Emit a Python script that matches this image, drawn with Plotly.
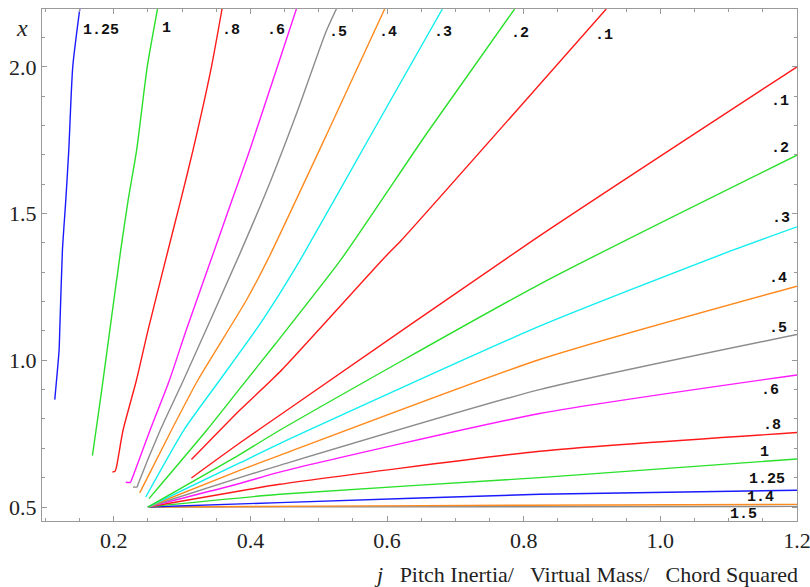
import plotly.graph_objects as go

# ---------------- data: steep family (labels along the top) ----------------
steep_labels = ["1.25", "1", ".8", ".6", ".5", ".4", ".3", ".2", ".1"]
steep_125_j = [0.1137, 0.1200, 0.1210, 0.1249, 0.1298, 0.1342, 0.1400, 0.1503]
steep_125_x = [0.866, 1.034, 1.102, 1.375, 1.545, 1.716, 2.0, 2.197]
steep_1_j = [0.1688, 0.181, 0.1941, 0.2102, 0.221, 0.2335, 0.249, 0.264]
steep_1_x = [0.675, 0.875, 1.10, 1.375, 1.545, 1.716, 2.0, 2.197]
steep_08_j = [0.1981, 0.2019, 0.2040, 0.2136, 0.2332, 0.2502, 0.2795, 0.298, 0.316, 0.343, 0.3585]
steep_08_x = [0.6193, 0.6217, 0.6364, 0.7615, 0.932, 1.1025, 1.375, 1.545, 1.716, 2.0, 2.197]
steep_06_j = [0.2176, 0.2244, 0.2263, 0.2531, 0.2815, 0.306, 0.3473, 0.373, 0.399, 0.4395, 0.4673]
steep_06_x = [0.5842, 0.5842, 0.5934, 0.7615, 0.932, 1.1025, 1.375, 1.545, 1.716, 2.0, 2.197]
steep_05_j = [0.2283, 0.2342, 0.2356, 0.268, 0.302, 0.384, 0.4287, 0.4700, 0.5102, 0.5258]
steep_05_x = [0.5682, 0.5682, 0.5774, 0.7615, 0.932, 1.36, 1.606, 1.856, 2.117, 2.197]
steep_04_j = [0.238, 0.2844, 0.3230, 0.3941, 0.4258, 0.512, 0.5965]
steep_04_x = [0.548, 0.7615, 0.932, 1.2045, 1.3445, 1.771, 2.197]
steep_03_j = [0.2468, 0.3024, 0.355, 0.4078, 0.4429, 0.4736, 0.5772, 0.681]
steep_03_x = [0.534, 0.7615, 0.932, 1.1025, 1.2275, 1.3445, 1.771, 2.197]
steep_02_j = [0.2516, 0.336, 0.385, 0.437, 0.533, 0.6575, 0.7867]
steep_02_x = [0.5285, 0.7615, 0.905, 1.057, 1.3445, 1.771, 2.197]
steep_01_j = [0.3137, 0.3843, 0.4429, 0.594, 0.6209, 0.9208]
steep_01_x = [0.6616, 0.8297, 0.96, 1.3445, 1.4087, 2.197]

# ---------------- data: shallow family (labels along the right) ----------------
shallow_labels = [".1", ".2", ".3", ".4", ".5", ".6", ".8", "1", "1.25", "1.4", "1.5"]
sh_01_j = [0.3137, 0.3843, 0.4429, 0.8135, 1.2]
sh_01_x = [0.599, 0.718, 0.8127, 1.4087, 2.0]
sh_02_j = [0.25, 0.3843, 0.4429, 0.8233, 1.2]
sh_02_x = [0.5, 0.6787, 0.7615, 1.259, 1.699]
sh_03_j = [0.25, 0.3843, 0.4429, 0.8233, 1.106, 1.2]
sh_03_x = [0.5, 0.650, 0.716, 1.116, 1.375, 1.4546]
sh_04_j = [0.25, 0.3843, 0.4429, 0.8233, 1.2]
sh_04_x = [0.5, 0.625, 0.676, 1.0025, 1.2525]
sh_05_j = [0.25, 0.3843, 0.4429, 0.8233, 1.2]
sh_05_x = [0.5, 0.6, 0.642, 0.9, 1.0878]
sh_06_j = [0.25, 0.3843, 0.4429, 0.8233, 1.2]
sh_06_x = [0.5, 0.58, 0.619, 0.8184, 0.95]
sh_08_j = [0.25, 0.3843, 0.4429, 0.8233, 1.2]
sh_08_x = [0.5, 0.5546, 0.5774, 0.69, 0.7537]
sh_1_j = [0.25, 0.4429, 0.8233, 1.2]
sh_1_x = [0.5, 0.5433, 0.60, 0.6637]
sh_125_j = [0.25, 0.4429, 0.8233, 1.2]
sh_125_x = [0.5, 0.515, 0.5433, 0.557]
sh_14_j = [0.25, 0.5, 0.8, 1.2]
sh_14_x = [0.5, 0.503, 0.506, 0.509]
sh_15_j = [0.25, 1.2]
sh_15_x = [0.5, 0.502]

# label anchor positions (data coordinates)
steep_label_j = [0.181, 0.2775, 0.3712, 0.437, 0.5277, 0.6009, 0.6813, 0.794, 0.917]
steep_label_x = [2.125, 2.129, 2.125, 2.125, 2.118, 2.118, 2.118, 2.115, 2.108]
shallow_label_j = [1.1744, 1.1744, 1.1773, 1.1715, 1.1715, 1.1612, 1.1627, 1.1525, 1.1568, 1.1466, 1.1217]
shallow_label_x = [1.883, 1.7205, 1.4843, 1.28, 1.1095, 0.898, 0.7786, 0.6866, 0.5945, 0.534, 0.4751]

x_ticks = [0.2, 0.4, 0.6, 0.8, 1.0, 1.2]
y_ticks = [0.5, 1.0, 1.5, 2.0]

# ---------------- styling ----------------
RED, GREEN, BLUE = "#ff1a1a", "#2ae02a", "#1a1aff"
MAG, GRAY, ORANGE, CYAN = "#ff1aff", "#8c8c8c", "#ff8a1e", "#12eeee"

steep = [
    (steep_125_j, steep_125_x, BLUE), (steep_1_j, steep_1_x, GREEN),
    (steep_08_j, steep_08_x, RED), (steep_06_j, steep_06_x, MAG),
    (steep_05_j, steep_05_x, GRAY), (steep_04_j, steep_04_x, ORANGE),
    (steep_03_j, steep_03_x, CYAN), (steep_02_j, steep_02_x, GREEN),
    (steep_01_j, steep_01_x, RED),
]
shallow = [
    (sh_15_j, sh_15_x, GRAY), (sh_14_j, sh_14_x, ORANGE),
    (sh_125_j, sh_125_x, BLUE), (sh_1_j, sh_1_x, GREEN),
    (sh_08_j, sh_08_x, RED), (sh_06_j, sh_06_x, MAG),
    (sh_05_j, sh_05_x, GRAY), (sh_04_j, sh_04_x, ORANGE),
    (sh_03_j, sh_03_x, CYAN), (sh_02_j, sh_02_x, GREEN),
    (sh_01_j, sh_01_x, RED),
]

fig = go.Figure()
for jj, xx, c in steep + shallow:
    fig.add_trace(go.Scatter(x=jj, y=xx, mode="lines",
                             line=dict(color=c, width=1.4, shape="spline", smoothing=0.6),
                             hoverinfo="skip", showlegend=False))

lab_font = dict(family="Liberation Mono", size=15, color="#111")
for t, a, b in zip(steep_labels, steep_label_j, steep_label_x):
    fig.add_annotation(x=a, y=b, xref="x", yref="y", text="<b>" + t + "</b>",
                       showarrow=False, font=lab_font)
for t, a, b in zip(shallow_labels, shallow_label_j, shallow_label_x):
    fig.add_annotation(x=a, y=b, xref="x", yref="y", text="<b>" + t + "</b>",
                       showarrow=False, font=lab_font)

serif = "Liberation Serif, Times New Roman, serif"
fig.add_annotation(x=0, y=1, xref="paper", yref="paper", xanchor="center", yanchor="middle",
                   xshift=-20, yshift=-19, text="<i>x</i>",
                   showarrow=False, font=dict(family=serif, size=24, color="#222"))
fig.add_annotation(x=1.0, y=0, xref="paper", yref="paper", xanchor="right", yanchor="middle",
                   xshift=3, yshift=-53,
                   text="<i>j</i>\u00a0\u00a0 Pitch Inertia/\u00a0\u00a0 Virtual Mass/\u00a0\u00a0 Chord Squared",
                   showarrow=False, font=dict(family=serif, size=22, color="#222"))

axis_common = dict(showgrid=False, zeroline=False, showline=True, mirror="allticks",
                   linecolor="#9a9a9a", linewidth=1, ticks="inside", ticklen=5,
                   tickcolor="#9a9a9a", tickwidth=1, automargin=False,
                   ticklabeloverflow="allow",
                   tickfont=dict(family=serif, size=22, color="#222"))
fig.update_xaxes(range=[0.095, 1.2], tickvals=x_ticks, ticktext=[f"{v:.1f}" for v in x_ticks],
                 minor=dict(dtick=0.05, tick0=0, ticks="inside", ticklen=3, tickcolor="#9a9a9a"),
                 **axis_common)
fig.update_yaxes(range=[0.4523, 2.197], tickvals=y_ticks, ticktext=[f"{v:.1f}" for v in y_ticks],
                 minor=dict(dtick=0.1, tick0=0, ticks="inside", ticklen=3, tickcolor="#9a9a9a"),
                 **axis_common)
fig.update_layout(width=810, height=587, margin=dict(l=42, r=13, t=9, b=66),
                  plot_bgcolor="white", paper_bgcolor="white")
fig.write_html("out.html", config={"displayModeBar": False},
               post_script="document.body.style.margin='0';")
